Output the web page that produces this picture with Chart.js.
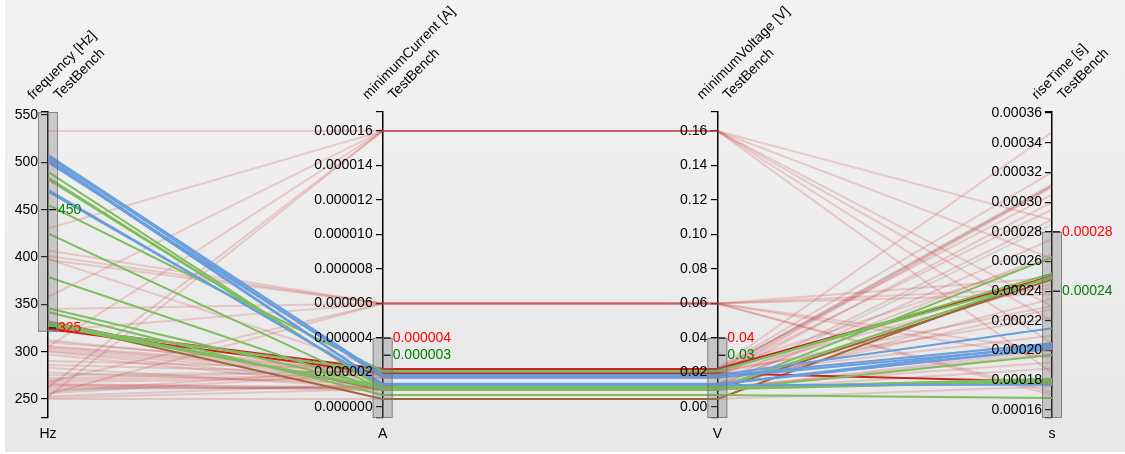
<!DOCTYPE html>
<html><head><meta charset="utf-8">
<script src="https://cdn.jsdelivr.net/npm/chart.js@4/dist/chart.umd.min.js"></script>
<style>html,body{margin:0;padding:0;background:#fff;overflow:hidden}#wrap{width:1125px;height:454px;position:relative}</style>
</head><body><div id="wrap"><canvas id="c"></canvas></div>
<script>
// ---- axes ----
const dimensions = ['frequency [Hz]', 'minimumCurrent [A]', 'minimumVoltage [V]', 'riseTime [s]'];
const sources = ['TestBench', 'TestBench', 'TestBench', 'TestBench'];
const units = ['Hz', 'A', 'V', 's'];
const axisMin = [229.9, -0.00000064, -0.0064, 0.0001546];
const axisMax = [553.2, 0.0000171, 0.171, 0.0003607];
const freqTicks = [250, 300, 350, 400, 450, 500, 550];
const currentTicks = [0, 0.000002, 0.000004, 0.000006, 0.000008, 0.00001, 0.000012, 0.000014, 0.000016];
const voltageTicks = [0, 0.02, 0.04, 0.06, 0.08, 0.1, 0.12, 0.14, 0.16];
const riseTicks = [0.00016, 0.00018, 0.0002, 0.00022, 0.00024, 0.00026, 0.00028, 0.0003, 0.00032, 0.00034, 0.00036];
const tickDecimals = [0, 6, 2, 5];
// ---- brushes and marks ----
const brushLow = [321, -0.00000064, -0.0064, 0.0001546];
const brushHigh = [553.2, 0.000004, 0.04, 0.00028];
const redMarks = [325, 0.000004, 0.04, 0.00028];
const redTexts = ['325', '0.000004', '0.04', '0.00028'];
const greenMarks = [450, 0.000003, 0.03, 0.00024];
const greenTexts = ['450', '0.000003', '0.03', '0.00024'];
// ---- series (one entry per line) ----
const group = ['blue','blue','blue','blue','blue','blue','blue',
  'green','green','green','green','green','green','green','green','green','green','green','green',
  'red','red','brown','brown',
  'bg','bg','bg','bg','bg','bg','bg','bg','bg','bg','bg','bg','bg','bg','bg','bg','bg','bg','bg','bg','bg','bg','bg','bg','bg','bg','bg','bg','bg','bg','bg','bg','bg','bg','bg','bg','bg','bg'];
const frequency = [508,506,504,502,500,471,469,
  490,484,482,455,425,379,346,342,331,329,328,327,
  326,324,330,332,
  533,430,358,305,262,252,407,401,397,345,322,268,255,310,306,305,303,301,300,297,290,286,283,278,272,270,268,266,265,264,262,258,256,253,251,250,398,312,275,260];
const minimumCurrent = [0.00000186,0.0000017,0.00000132,0.0000013,0.0000018,0.00000128,0.00000134,
  0.00000104,0.0000011,0.00000114,0.00000209,0.00000102,0.00000099,0.00000116,0.0000007,0.00000106,0.00000112,0.00000108,0.00000205,
  0.0000022,0.00000195,0.00000046,0.000001,
  0.000016,0.000016,0.000016,0.000016,0.000016,0.000016,0.000006,0.000006,0.000006,0.000006,0.000006,0.000006,0.000006,
  0.0000022,0.00000209,0.00000195,0.00000186,0.0000017,0.00000132,0.00000116,0.0000022,0.00000195,0.0000011,0.00000132,0.00000209,0.00000186,0.0000017,0.00000104,0.00000116,0.00000099,0.0000011,0.0000022,0.00000195,0.00000132,0.00000104,0.00000046,0.0000022,0.00000195,0.00000209,0.00000116];
const minimumVoltage = [0.0186,0.017,0.0132,0.013,0.018,0.0128,0.0134,
  0.0104,0.011,0.0114,0.0209,0.0102,0.0099,0.0116,0.007,0.0106,0.0112,0.0108,0.0205,
  0.022,0.0195,0.0046,0.01,
  0.16,0.16,0.16,0.16,0.16,0.16,0.06,0.06,0.06,0.06,0.06,0.06,0.06,
  0.022,0.0209,0.0195,0.0186,0.017,0.0132,0.0116,0.022,0.0195,0.011,0.0132,0.0209,0.0186,0.017,0.0104,0.0116,0.0099,0.011,0.022,0.0195,0.0132,0.0104,0.0046,0.022,0.0195,0.0209,0.0116];
const riseTime = [0.000215,0.000203,0.000204,0.000202,0.000205,0.000177,0.000201,
  0.000263,0.000181,0.00018,0.000249,0.000179,0.000197,0.000178,0.000168,0.000181,0.00025,0.000179,0.000252,
  0.00025,0.000179,0.000251,0.000248,
  0.000288,0.00023,0.000205,0.000185,0.000262,0.00022,0.000249,0.000172,0.000242,0.00017,0.0002,0.000238,0.000195,
  0.000347,0.000311,0.000311,0.00031,0.0003,0.000288,0.000275,0.000262,0.000245,0.000235,0.000228,0.000222,0.00021,0.000205,0.000198,0.000192,0.000188,0.00018,0.000305,0.000295,0.000265,0.0002,0.000176,0.00032,0.00023,0.000312,0.000285];

const series = [frequency, minimumCurrent, minimumVoltage, riseTime];
const tickLists = [freqTicks, currentTicks, voltageTicks, riseTicks];
const COLORS = {blue:'rgb(104,158,222)', green:'rgb(124,190,94)', red:'rgb(204,34,34)', brown:'rgb(160,104,58)', bg:'rgba(200,50,50,0.2)'};
const FONT = "'Liberation Sans', Arial, Helvetica, sans-serif";

const datasets = frequency.map((_, i) => ({
  data: series.map((arr, k) => ({x: k, y: (arr[i] - axisMin[k]) / (axisMax[k] - axisMin[k])})),
  borderColor: COLORS[group[i]],
  borderWidth: 2,
  pointRadius: 0,
  tension: 0,
  fill: false,
  xAxisID: 'x',
  yAxisID: 'yn',
  order: group[i] === 'bg' ? 1 : 0
}));

function axisScale(k) {
  return {
    type: 'linear', position: {x: k}, min: axisMin[k], max: axisMax[k], z: 1,
    afterBuildTicks: s => { s.ticks = [axisMin[k], ...tickLists[k], axisMax[k]].map(v => ({value: v})); },
    afterFit: s => { s.paddingTop = 0; s.paddingBottom = 0; },
    ticks: {display: false, autoSkip: false},
    grid: {drawOnChartArea: false, drawTicks: true, tickLength: 6, color: '#000', lineWidth: 1.2},
    border: {display: true, color: '#000', width: 1.5}
  };
}

const deco = {
  id: 'deco',
  beforeDraw(chart) {
    const ctx = chart.ctx;
    ctx.save();
    ctx.fillStyle = '#fff';
    ctx.fillRect(0, 0, chart.width, chart.height);
    const g = ctx.createLinearGradient(0, 0, 0, 452);
    g.addColorStop(0, '#f3f3f3');
    g.addColorStop(1, '#e7e7e7');
    ctx.fillStyle = g;
    ctx.fillRect(5, 0, chart.width - 5, 452);
    ctx.restore();
  },
  afterDatasetsDraw(chart) {
    const ctx = chart.ctx;
    ctx.save();
    for (let k = 0; k < 4; k++) {
      const s = chart.scales['y' + k];
      const x = chart.scales.x.getPixelForValue(k);
      const y1 = s.getPixelForValue(brushHigh[k]);
      const y2 = s.getPixelForValue(brushLow[k]);
      ctx.fillStyle = 'rgba(125,125,125,0.33)';
      ctx.fillRect(x - 10, y1, 20, y2 - y1);
      ctx.strokeStyle = 'rgba(110,110,110,0.75)';
      ctx.lineWidth = 1;
      ctx.strokeRect(x - 10 + 0.5, y1 + 0.5, 19, y2 - y1 - 1);
    }
    ctx.restore();
  },
  afterDraw(chart) {
    const ctx = chart.ctx;
    ctx.save();
    ctx.font = '14px ' + FONT;
    for (let k = 0; k < 4; k++) {
      const s = chart.scales['y' + k];
      const x = chart.scales.x.getPixelForValue(k);
      // tick labels
      ctx.fillStyle = '#000';
      ctx.textAlign = 'right';
      ctx.textBaseline = 'middle';
      tickLists[k].forEach(v => ctx.fillText(v.toFixed(tickDecimals[k]), x - 10, s.getPixelForValue(v)));
      // headers
      ctx.textAlign = 'left';
      ctx.textBaseline = 'alphabetic';
      ctx.save(); ctx.translate(x - 15, 100); ctx.rotate(-Math.PI / 4); ctx.fillText(dimensions[k], 0, 0); ctx.restore();
      ctx.save(); ctx.translate(x + 11, 100); ctx.rotate(-Math.PI / 4); ctx.fillText(sources[k], 0, 0); ctx.restore();
      // unit
      ctx.textAlign = 'center';
      ctx.textBaseline = 'middle';
      ctx.fillText(units[k], x, 434);
      // marks
      ctx.textAlign = 'left';
      [[redMarks, redTexts, '#ff0000'], [greenMarks, greenTexts, '#008000']].forEach(([vals, txt, col]) => {
        const y = s.getPixelForValue(vals[k]);
        ctx.strokeStyle = '#000'; ctx.lineWidth = 1.2;
        ctx.beginPath(); ctx.moveTo(x + 1, y); ctx.lineTo(x + 8, y); ctx.stroke();
        ctx.fillStyle = col;
        ctx.fillText(txt[k], x + 10, y);
      });
    }
    ctx.restore();
  }
};

new Chart(document.getElementById('c'), {
  type: 'line',
  data: {datasets},
  options: {
    responsive: true, maintainAspectRatio: false, animation: false,
    layout: {padding: {left: 48, right: 73, top: 112, bottom: 36}},
    plugins: {legend: {display: false}, tooltip: {enabled: false}},
    scales: {
      x: {type: 'linear', min: 0, max: 3, display: false},
      yn: {type: 'linear', min: 0, max: 1, display: false},
      y0: axisScale(0), y1: axisScale(1), y2: axisScale(2), y3: axisScale(3)
    }
  },
  plugins: [deco]
});
</script></body></html>
